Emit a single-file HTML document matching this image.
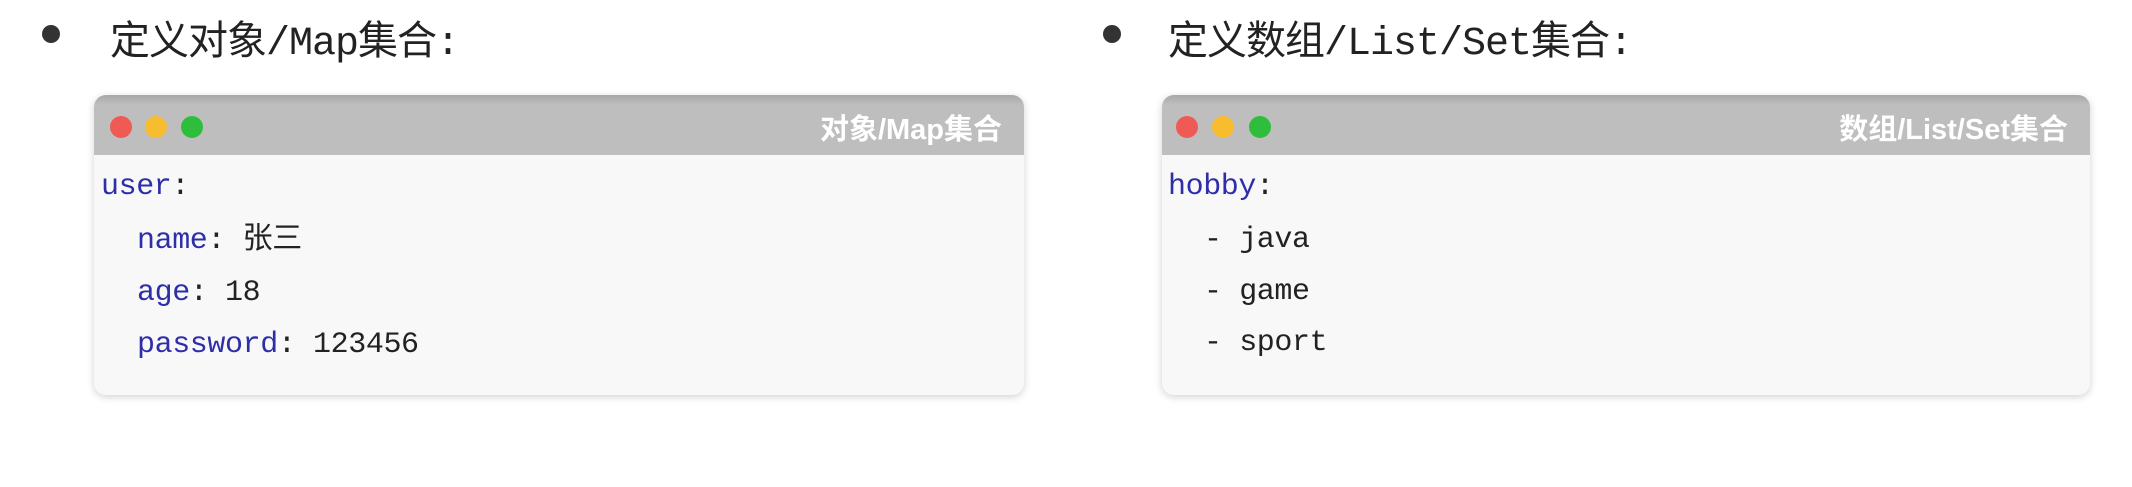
<!DOCTYPE html>
<html><head><meta charset="utf-8"><style>
body{margin:0;width:2132px;height:487px;background:#fff;position:relative;overflow:hidden;font-family:"Liberation Sans","Noto Sans CJK SC",sans-serif}
.bul{position:absolute;width:18px;height:18px;border-radius:50%;background:#333;top:25px}
.ttl{position:absolute;top:8px;font-size:40px;color:#222;font-family:"Liberation Mono","Noto Sans CJK SC",monospace;letter-spacing:-1px;white-space:nowrap}
.win{position:absolute;top:95px;height:300px;border-radius:12px;background:#f8f8f8;box-shadow:0 2px 8px rgba(0,0,0,.18);overflow:hidden}
.hd{height:60px;background:linear-gradient(#a9a9a9 0,#bebebe 10px,#bebebe);position:relative}
.dot{position:absolute;top:21px;width:22px;height:22px;border-radius:50%}
.ht{position:absolute;right:22px;top:11px;color:#fff;font-weight:bold;font-size:29px;font-family:"Liberation Sans","Noto Sans CJK SC",sans-serif;white-space:nowrap}
.code{position:absolute;font-family:"Liberation Mono","Noto Sans CJK SC",monospace;font-size:30px;letter-spacing:-0.4px;color:#222;white-space:pre;line-height:30px}
.k{color:#2e2ea8}
</style></head><body>
<div class="bul" style="left:42px"></div>
<div class="ttl" style="left:110px">定义对象/Map集合:</div>
<div class="bul" style="left:1103px"></div>
<div class="ttl" style="left:1168px">定义数组/List/Set集合:</div>

<div class="win" style="left:94px;width:930px">
 <div class="hd">
  <div class="dot" style="left:16px;background:#f05a55"></div>
  <div class="dot" style="left:51px;background:#f8bd2e"></div>
  <div class="dot" style="left:87px;background:#2fbe3b"></div>
  <div class="ht">对象/Map集合</div>
 </div>
</div>
<div class="code" style="left:101px;top:172px"><span class="k">user</span>:</div>
<div class="code" style="left:137px;top:226px"><span class="k">name</span>: 张三</div>
<div class="code" style="left:137px;top:278px"><span class="k">age</span>: 18</div>
<div class="code" style="left:137px;top:330px"><span class="k">password</span>: 123456</div>

<div class="win" style="left:1162px;width:928px">
 <div class="hd">
  <div class="dot" style="left:14px;background:#f05a55"></div>
  <div class="dot" style="left:50px;background:#f8bd2e"></div>
  <div class="dot" style="left:87px;background:#2fbe3b"></div>
  <div class="ht">数组/List/Set集合</div>
 </div>
</div>
<div class="code" style="left:1168px;top:172px"><span class="k">hobby</span>:</div>
<div class="code" style="left:1204px;top:225px">- java</div>
<div class="code" style="left:1204px;top:277px">- game</div>
<div class="code" style="left:1204px;top:328px">- sport</div>
</body></html>
